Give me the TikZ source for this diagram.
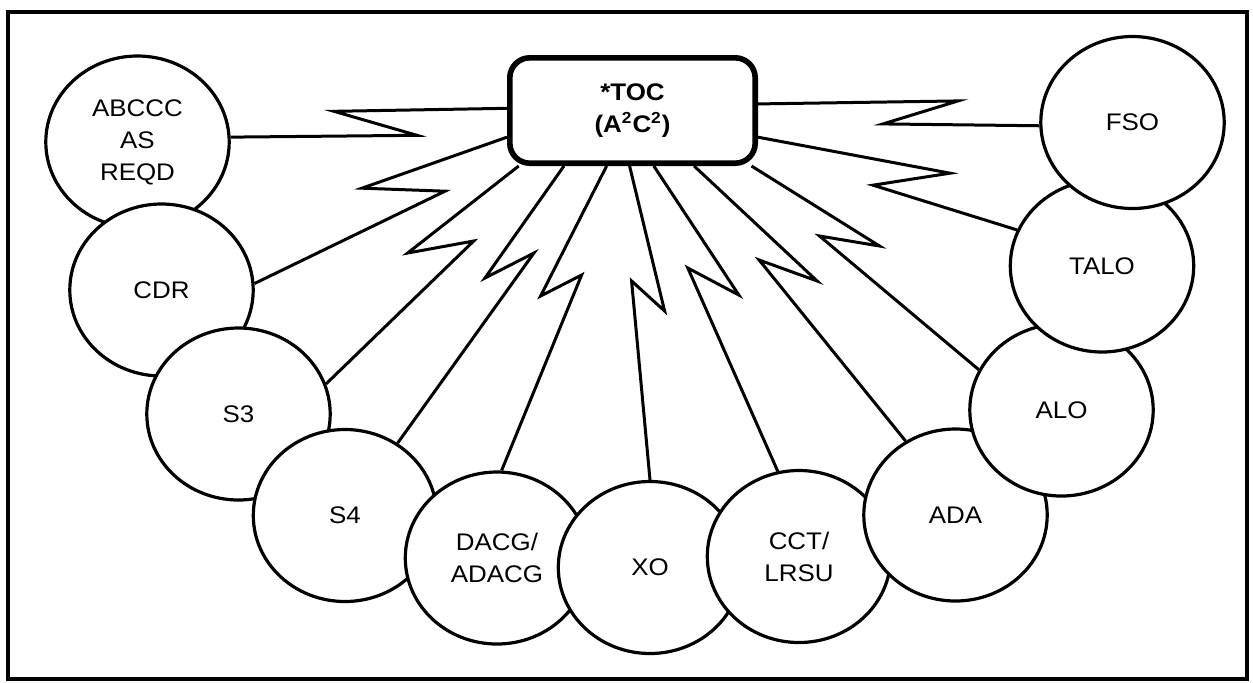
\documentclass[tikz,border=0pt]{standalone}
\usepackage{fontspec}
\setmainfont{Liberation Sans}[FakeStretch=1.08]
\usepackage{tikz}
\usetikzlibrary{shapes.geometric}

\begin{document}
\begin{tikzpicture}[x=0.5pt,y=-0.5pt,
  disc/.style={ellipse, draw, line width=1.6pt, fill=white, inner sep=0pt,
    minimum width=91.7pt, minimum height=86pt, align=center,
    font=\fontsize{12}{16}\selectfont},
  hub/.style={rectangle, rounded corners=10pt, draw, line width=2.8pt, fill=white,
    minimum width=122.7pt, minimum height=52.7pt, align=center,
    font=\bfseries\fontsize{12}{16}\selectfont},
  bolt/.style={line width=1.5pt}]
  \useasboundingbox (0,0) rectangle (1253,682);
  \draw[line width=2pt] (8,12) rectangle (1247,679);

  \node[disc] (abccc) at (137.5,142) {ABCCC\\AS\\REQD};
  \node[disc] (cdr)   at (161.5,290) {CDR};
  \node[disc] (s3)    at (238.5,414) {S3};
  \node[disc] (s4)    at (345,515.5) {S4};
  \node[disc] (dacg)  at (497,558)   {DACG/\\ADACG};
  \node[disc] (xo)    at (650,567.5) {XO};
  \node[disc] (cct)   at (799,556.5) {CCT/\\LRSU};
  \node[disc] (ada)   at (955.5,515) {ADA};
  \node[disc] (alo)   at (1061.5,410) {ALO};
  \node[disc] (talo)  at (1102,266)  {TALO};
  \node[disc] (fso)   at (1132.5,122.5) {FSO};

  \node[hub] (toc) at (632.5,110.5) {*TOC\\(A\textsuperscript{2}C\textsuperscript{2})};

  \draw[bolt] (toc.179) -- ++(-173,3) -- ++(83,24) -- (abccc.3);
  \draw[bolt] (toc.192) -- ++(-145,51) -- ++(83,3) -- (cdr.4);
  \draw[bolt] (toc.206) -- ++(-111,87) -- ++(66,-12) -- (s3.19);
  \draw[bolt] (toc.219) -- ++(-79,112) -- ++(49,-25) -- (s4.54);
  \draw[bolt] (toc.245) -- ++(-66,130) -- ++(41,-21) -- (dacg.87);
  \draw[bolt] (toc.267) -- ++(35,145) -- ++(-33,-30) -- (xo.90);
  \draw[bolt] (toc.291) -- ++(85,129) -- ++(-51,-27) -- (cct.104);
  \draw[bolt] (toc.318.5) -- ++(123,115) -- ++(-58,-21) -- (ada.124);
  \draw[bolt] (toc.335) -- ++(128,80) -- ++(-60,-10) -- (alo.154);
  \draw[bolt] (toc.348) -- ++(192,36) -- ++(-77,12) -- (talo.157.5);
  \draw[bolt] (toc.3.5) -- ++(200,-3) -- ++(-75,23) -- (fso.182);
\end{tikzpicture}
\end{document}
